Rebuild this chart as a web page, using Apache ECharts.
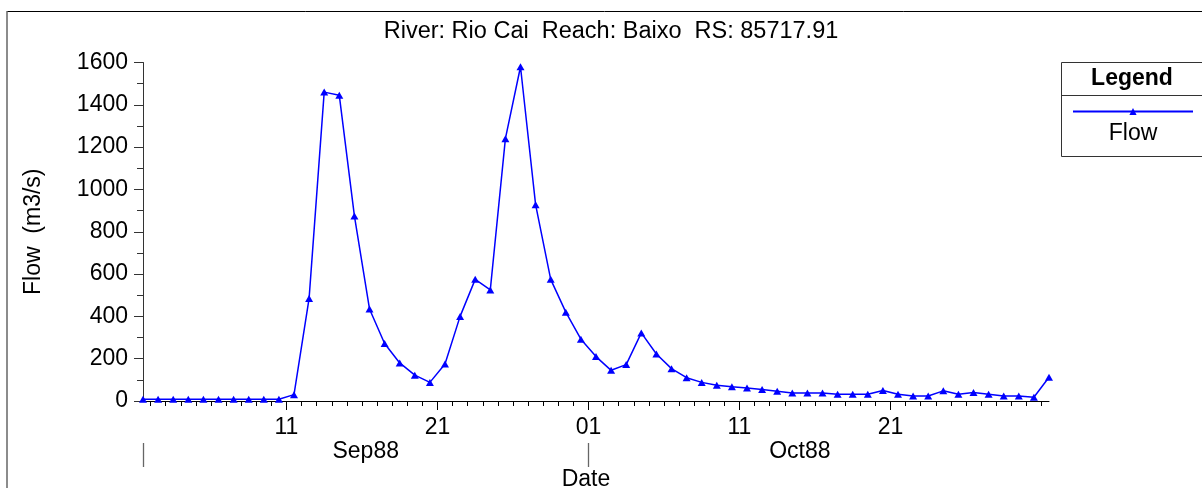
<!DOCTYPE html>
<html>
<head>
<meta charset="utf-8">
<script src="https://cdn.jsdelivr.net/npm/echarts@6/dist/echarts.min.js"></script>
<style>
  html, body { margin: 0; padding: 0; background: #fff; }
  #chart { width: 1202px; height: 488px; }
</style>
</head>
<body>
<div id="chart"></div>
<script>
// daily flow at RS 85717.91, one value per day from 01Sep1988 to 31Oct1988 (m3/s)
const firstDay = [1988, 9, 1];
const flow = [
  8, 8, 8, 8, 8, 8, 8, 8, 8, 8,
  30, 485, 1460, 1445, 875, 435, 272, 180, 122, 88,
  175, 400, 575, 525, 1240, 1580, 928, 575, 420, 292,
  210, 145, 172, 322, 222, 153, 110, 88, 74, 67,
  61, 54, 46, 38, 38, 38, 32, 32, 32, 50,
  32, 24, 24, 48, 32, 40, 32, 24, 24, 18,
  112
];
const majorTickDays = ['1988-09-11', '1988-09-21', '1988-10-01', '1988-10-11', '1988-10-21'];
const monthLabels = ['Sep88', 'Oct88'];
const monthLabelAt = ['1988-09-16 06:00', '1988-10-15 00:00'];
const monthBreaks = ['1988-09-01 12:00', '1988-10-01 00:00'];
const yMax = 1600;
const yStep = 200;

const FONT = '"Liberation Sans", Arial, sans-serif';
const DAY = 86400000;

// x axis is counted in days from 01Sep1988 00:00 (local time)
const base = new Date(firstDay[0], firstDay[1] - 1, firstDay[2]).getTime();
function toDays(s) {
  const p = s.split(/[- :]/).map(Number);
  return (new Date(p[0], p[1] - 1, p[2], p[3] || 0, p[4] || 0).getTime() - base) / DAY;
}
function dayOfMonth(x) {
  return new Date(base + Math.round(x * 24) * 3600000).getDate();
}

// values are daily means plotted at midday
const seriesData = flow.map((v, i) => [i + 0.5, v]);
const xMin = seriesData[0][0];
const xMax = seriesData[seriesData.length - 1][0];

// a small tick at every midnight inside the axis
const dayTicks = [];
for (let d = Math.ceil(xMin); d <= xMax; d++) dayTicks.push(d);
const majorX = majorTickDays.map(toDays);
const monthX = monthLabelAt.map(toDays);

const chart = echarts.init(document.getElementById('chart'));
chart.setOption({
  animation: false,
  backgroundColor: '#fff',
  textStyle: { fontFamily: FONT },
  title: {
    text: 'River: Rio Cai  Reach: Baixo  RS: 85717.91',
    left: 611,
    textAlign: 'center',
    top: 20,
    padding: 0,
    textStyle: { fontSize: 23.5, fontWeight: 'normal', color: '#000', fontFamily: FONT },
  },
  grid: { left: 143, right: 153, top: 62.5, bottom: 87, outerBoundsMode: 'none', containLabel: false },
  legend: {
    data: ['Flow'],
    left: 1072,
    top: 107,
    padding: 0,
    itemWidth: 120,
    itemHeight: 9,
    formatter: () => '',
    selectedMode: false,
  },
  xAxis: [
    {
      type: 'value',
      position: 'bottom',
      min: xMin,
      max: xMax,
      axisLine: { lineStyle: { color: '#000', width: 1 } },
      axisTick: { customValues: dayTicks, length: 5, lineStyle: { color: '#000' } },
      axisLabel: {
        customValues: majorX,
        margin: 15,
        fontSize: 23,
        color: '#000',
        fontFamily: FONT,
        formatter: (v) => String(dayOfMonth(v)).padStart(2, '0'),
      },
      splitLine: { show: false },
    },
    {
      type: 'value',
      position: 'bottom',
      min: xMin,
      max: xMax,
      axisLine: { show: false },
      axisTick: { customValues: majorX, length: 9, lineStyle: { color: '#000' } },
      axisLabel: {
        customValues: monthX,
        margin: 39,
        fontSize: 23,
        color: '#000',
        fontFamily: FONT,
        formatter: (v) => monthLabels[monthX.indexOf(v)] || '',
      },
      splitLine: { show: false },
      name: 'Date',
      nameLocation: 'middle',
      nameGap: 60,
      nameTextStyle: { fontSize: 23, color: '#000', fontFamily: FONT, padding: [0, 20, 0, 0] },
    },
    {
      type: 'value',
      position: 'bottom',
      offset: 42,
      min: xMin,
      max: xMax,
      axisLine: { show: false },
      axisTick: { customValues: monthBreaks.map(toDays), length: 24, lineStyle: { color: '#666', width: 1.3 } },
      axisLabel: { show: false },
      splitLine: { show: false },
    },
  ],
  yAxis: {
    type: 'value',
    min: 0,
    max: yMax,
    interval: yStep,
    name: 'Flow  (m3/s)',
    nameLocation: 'middle',
    nameGap: 98,
    nameTextStyle: { fontSize: 23, color: '#000', fontFamily: FONT },
    axisLine: { show: true, lineStyle: { color: '#333', width: 1 } },
    axisTick: { show: true, length: 9, lineStyle: { color: '#333' } },
    minorTick: { show: true, splitNumber: 2, length: 6, lineStyle: { color: '#333' } },
    axisLabel: { margin: 15, fontSize: 23, color: '#000', fontFamily: FONT, formatter: (v) => String(v) },
    splitLine: { show: false },
  },
  series: [{
    name: 'Flow',
    type: 'line',
    xAxisIndex: 0,
    data: seriesData,
    symbol: 'triangle',
    symbolSize: [8, 7],
    itemStyle: { color: '#0000ff' },
    lineStyle: { color: '#0000ff', width: 1.5 },
  }],
  graphic: [
    { type: 'line', shape: { x1: 7, y1: 11.5, x2: 1202, y2: 11.5 }, style: { stroke: '#000', lineWidth: 1 } },
    { type: 'line', shape: { x1: 7, y1: 11, x2: 7, y2: 488 }, style: { stroke: '#666', lineWidth: 1.5 } },
    { type: 'rect', shape: { x: 1061.5, y: 62.5, width: 150, height: 94 }, style: { fill: 'none', stroke: '#333', lineWidth: 1 } },
    { type: 'line', shape: { x1: 1061.5, y1: 95.5, x2: 1202, y2: 95.5 }, style: { stroke: '#333', lineWidth: 1 } },
    { type: 'text', x: 1132, y: 79, style: { text: 'Legend', fill: '#000', font: 'bold 23px ' + FONT, align: 'center', verticalAlign: 'middle' } },
    { type: 'text', x: 1133, y: 134, style: { text: 'Flow', fill: '#000', font: '23px ' + FONT, align: 'center', verticalAlign: 'middle' } },
  ],
});
</script>
</body>
</html>
